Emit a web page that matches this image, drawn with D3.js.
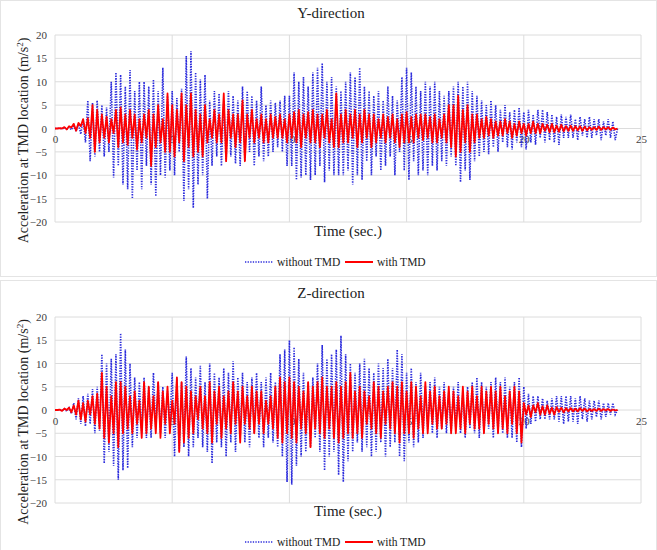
<!DOCTYPE html>
<html><head><meta charset="utf-8">
<script src="https://cdn.jsdelivr.net/npm/d3@7"></script>
<style>body{margin:0;background:#fff}svg{display:block}</style>
</head><body><div id="chart"></div>
<script>
// ---- data (one sample every 0.1 s, 0 .. 24 s) ----
const timeStep = 0.1;
const xTicks = [0, 5, 10, 15, 20, 25];
const yTicks = [-20, -15, -10, -5, 0, 5, 10, 15, 20];
const seriesNames = ["without TMD", "with TMD"];
const chartTitles = ["Y-direction", "Z-direction"];

const yWithout = [
 0,0,0.1,-0.1,0.2,-0.2,0.3,-0.3,0.5,-0.6,
 1.0,-1.2,2.0,-3,6,-7,5.5,-6,6,-5,
 5,-6,4.5,-5,10,-10.5,12,-8,11.5,-12,
 9,-13,12.5,-15,8,-9,10,-13,10,-8,
 9,-12,10.5,-14.5,8,-10,13,-10.5,7,-9,
 8,-10,6.5,-5,8.5,-15.5,15.5,-13,16.5,-17,
 12,-12,10.5,-10,11.5,-15,6,-8,8,-6,
 7.5,-8,6,-7,8,-6,7,-7.5,6,-8,
 9,-7,8,-5,7,-8,6,-6,9,-7,
 5,-6,6,-5,5.5,-4,6,-5,7,-8,
 7,-8,12,-11,10,-10.5,11,-10,9,-11,
 12,-10,13,-8,14,-11.5,10,-9,11,-10,
 9,-10,8,-10,10,-9,12,-12,11,-10,
 13,-11,9,-7,8,-10,7,-6,8,-9,
 6,-8,9,-6,7,-10,6,-5,11,-9,
 13,-11,12,-7,9,-10,8,-9,10,-10,
 9,-8,10,-9,8,-7,7,-8,8,-6,
 9,-8,10,-11.5,9,-9,10,-11,8,-7,
 7,-6,6,-5,5,-5.5,6,-4,5,-5,
 4,-3,5,-4,3.5,-4.5,4,-3,4.5,-4,
 3.5,-4.5,4,-3,3,-3.5,4,-2,4,-3,
 3.5,-2.5,3,-3,2.5,-3.5,3,-2,2.5,-2,
 3,-2,2,-2.5,2.5,-1.5,2,-2,2.5,-2,
 2,-1.5,2,-2.5,1.5,-1.5,2,-2,1.5,-2.5,
 0];

const yWith = [
 0,0,0.1,0,0.3,-0.2,0.5,0.2,1.0,-0.5,
 1.2,0.5,2,-1,2.2,-2,5,-5,4,-3,
 3,-2,2.5,-3,2,-1,4,-4,4.5,-3,
 3,-3.5,4,-2,3,-4.5,2,-3,3,-2,
 4,-8,3,-4,5,-3,2,-5,7.5,-5,
 5,-6,4,-3,7.5,-7,5,-4,7.5,-6,
 4,-5,3,-6,5,-3,2,-2,4,-3,
 3,-3,7.5,-7,4,-2,3,-4,3,-3,
 6,-7,3,-2,4,-3,2,-2,3,-3,
 2,-3,3,-2,2.5,-2,3,-2,2,-3,
 3,-2,3.5,-3,4,-4,3,-2,3.5,-3,
 4,-3,3,-4,3,-2,4,-3,2,-4,
 7.5,-4,3,-3,4,-3,3,-2,4,-4,
 3,-3,4,-2,3,-4,3,-3,2,-2,
 3,-3,2.5,-2,3,-3,2,-4,3,-3,
 3.5,-3,2.5,-3,3,-2,3,-2.5,3,-2,
 2.5,-3,3,-3,2,-2,3,-3,5,-4,
 5,-6,7,-5,4,-3,5,-5,3,-3,
 3,-2,2,-2,2.5,-1.5,2,-2,1.5,-1.5,
 1.5,-1.5,2,-1,1.5,-2,1,-1.5,1.5,-1,
 1,-1.5,1,-1,1.5,-1,1,-1,1,-0.5,
 0.8,-0.8,1,-0.8,0.6,-0.7,0.8,-0.6,0.5,-0.5,
 0.6,-0.5,0.5,-0.4,0.5,-0.5,0.4,-0.4,0.3,-0.3,
 0.3,-0.3,0.4,-0.3,0.3,-0.2,0.3,-0.3,0.2,-0.2,
 0];

const zWithout = [
 0,0,0.1,-0.2,0.3,-0.3,0.5,-0.8,1.5,-2,
 2.5,-3,3,-3.5,3.5,-3,4.5,-5,5,-4.5,
 12,-11.5,10,-9,11,-12,12,-15,16.5,-13,
 13,-12.5,10,-8,7,-6,6,-5,7,-6,
 5,-6,8,-4,6,-5,5,-6,4,-3,
 8,-10,7,-9,6,-8,11.5,-10,9,-8,
 7,-6,9.5,-8,6,-9,10,-11.5,8,-7,
 7,-8,9,-10,8,-7,10.5,-9,7,-6,
 8,-7,6,-8,7,-5,8,-6,6,-8,
 7,-6,8,-7,6,-8,12,-10,13,-15.5,
 15,-16,13.5,-12,11,-10,8,-9,6,-8,
 7,-6,10,-9,14,-13,11,-10,12,-9,
 13,-14,16,-15.5,12,-11,10,-9,8,-7,
 10,-9,11,-8,9,-10,8,-9,10,-7,
 9,-10,11,-8,9,-7,13,-10,12,-11,
 8,-7,9,-8,6,-7,8,-6,5,-4,
 6,-5,7,-6,5,-4,6,-5,4,-5,
 5,-4,6,-5,4,-6,5,-4,6,-5,
 7,-6,6,-5,5,-4,6,-6,7,-5,
 6,-5,7,-6,5,-6,6,-7,7,-8,
 5,-4,3.5,-3,3,-2.5,3,-2,2.5,-2,
 2,-2,2.5,-2,3,-2.5,3,-3,3,-2.5,
 3,-2.5,2.5,-3,3,-2,2.5,-2.5,2,-2,
 2,-1.5,2,-2,1.5,-1.5,1.5,-1,1.5,-1,
 0];

const zWith = [
 0,0,0.1,-0.2,0.3,0,0.5,-0.5,1.0,-1,
 2,-2,1.5,-2.5,2,-1,3,-3,3.5,-4,
 8,-6,5,-7,3,-5,6,-8,6,-5,
 5,-4,3,-5,4,-3,2,-6,6,-5,
 5,-4,3,-5,6,-6,4,-3,5,-5,
 2,-3,7,-9,6,-7,5,-6,4,-5,
 3,-2,5,-4,3,-5,6,-7,4,-3,
 5,-6,3,-4,4,-5,6,-3,4,-7,
 5,-3,3,-4,5,-5,4,-3,4,-5,
 2,-3,3,-4,5,-6,7,-7,6,-5,
 7,-6,6,-7,5,-4,4,-5,6,-8,
 5,-4,6,-5,7,-6,5,-4,5,-6,
 6,-7,5,-6,6,-5,8,-6,4,-5,
 5,-6,4,-3,3,-4,6,-5,5,-6,
 4,-3,5,-4,6,-5,5,-7,6,-5,
 4,-5,6,-6,5,-4,3,-5,6,-5,
 4,-3,5,-4,3,-4,4,-3,5,-5,
 4,-5,3,-4,5,-5,4,-3,5,-4,
 3,-4,5,-5,4,-3,5,-4,4,-5,
 5,-4,3,-5,4,-3,5,-5,4,-7,
 1.5,-1,1,-1.5,1,-0.5,1.5,-1,0.8,-1,
 1,-0.8,0.5,-1,0.6,-0.4,0.5,-0.5,0.4,-0.3,
 0.4,-0.3,0.3,-0.3,0.4,-0.2,0.3,-0.3,0.2,-0.2,
 0.2,-0.2,0.3,-0.2,0.2,-0.1,0.2,-0.2,0.1,-0.1,
 0];

// ---- drawing ----
const W = 657, H = 550;
const FONT = "'Liberation Serif', 'Times New Roman', Times, serif";
const svg = d3.select("#chart").append("svg").attr("width", W).attr("height", H)
  .attr("font-family", FONT);

const panels = [
  {title: chartTitles[0], without: yWithout, withT: yWith, top: 0,   plotTop: 35,  plotBot: 222},
  {title: chartTitles[1], without: zWithout, withT: zWith, top: 280, plotTop: 317, plotBot: 503}
];

const blue = "#2b2bdc", red = "#ff0000";

panels.forEach(p => {
  const g = svg.append("g");
  g.append("rect").attr("x", 0.5).attr("y", p.top + 0.5).attr("width", W - 1).attr("height", 276)
    .attr("fill", "#fff").attr("stroke", "#e4e4e4");

  const x = d3.scaleLinear().domain([0, 25]).range([55, 641]);
  const y = d3.scaleLinear().domain([-20, 20]).range([p.plotBot, p.plotTop]);

  // gridlines
  g.append("g").selectAll("line").data(yTicks).join("line")
    .attr("x1", x(0)).attr("x2", x(25)).attr("y1", d => y(d)).attr("y2", d => y(d))
    .attr("stroke", "#dcdcdc").attr("stroke-width", 1);
  g.append("g").selectAll("line").data(xTicks).join("line")
    .attr("y1", y(20)).attr("y2", y(-20)).attr("x1", d => x(d)).attr("x2", d => x(d))
    .attr("stroke", "#dcdcdc").attr("stroke-width", 1);

  // y axis labels
  const ya = d3.axisLeft(y).tickValues(yTicks).tickSize(0).tickPadding(8);
  const yg = g.append("g").attr("transform", `translate(${x(0)},0)`).call(ya);
  yg.attr("font-family", FONT).attr("font-size", 11);
  yg.select(".domain").remove();
  yg.selectAll("text").style("font-family", FONT).attr("fill", "#404040");

  // x axis labels on zero line
  const xa = d3.axisBottom(x).tickValues(xTicks).tickSize(0).tickPadding(7).tickFormat(d3.format("d"));
  const xg = g.append("g").attr("transform", `translate(0,${y(0)})`).call(xa);
  xg.attr("font-family", FONT).attr("font-size", 11);
  xg.select(".domain").remove();
  xg.selectAll("text").style("font-family", FONT).attr("fill", "#404040");

  const line = d3.line().x((d, i) => x(i * timeStep)).y(d => y(d));

  g.append("path").datum(p.without).attr("d", line).attr("fill", "none")
    .attr("stroke", blue).attr("stroke-width", 1.6).attr("stroke-dasharray", "1.3,1.3");
  g.append("path").datum(p.withT).attr("d", line).attr("fill", "none")
    .attr("stroke", red).attr("stroke-width", 1.8).attr("stroke-linejoin", "round");

  // title
  g.append("text").attr("x", 331).attr("y", p.top + 18).attr("text-anchor", "middle")
    .style("font-family", FONT).attr("font-size", 15).attr("fill", "#222").text(p.title);

  // x title
  g.append("text").attr("x", 348).attr("y", p.top + 236).attr("text-anchor", "middle")
    .style("font-family", FONT).attr("font-size", 15).attr("fill", "#222").text("Time (sec.)");

  // y title
  const yt = g.append("text").attr("transform", `translate(28,${(p.plotTop + p.plotBot) / 2 + 12}) rotate(-90)`)
    .attr("text-anchor", "middle").style("font-family", FONT).attr("font-size", 14).attr("fill", "#222");
  yt.append("tspan").text("Acceleration at TMD location (m/s");
  yt.append("tspan").attr("font-size", 9).attr("dy", -5).text("2");
  yt.append("tspan").attr("dy", 5).text(")");

  // legend
  const ly = p.top + 262;
  g.append("line").attr("x1", 245).attr("x2", 273).attr("y1", ly).attr("y2", ly)
    .attr("stroke", blue).attr("stroke-width", 1.6).attr("stroke-dasharray", "1.3,1.3");
  g.append("text").attr("x", 277).attr("y", ly + 4).style("font-family", FONT).attr("font-size", 11.5).attr("fill", "#222").text(seriesNames[0]);
  g.append("line").attr("x1", 345).attr("x2", 373).attr("y1", ly).attr("y2", ly)
    .attr("stroke", red).attr("stroke-width", 2);
  g.append("text").attr("x", 377).attr("y", ly + 4).style("font-family", FONT).attr("font-size", 11.5).attr("fill", "#222").text(seriesNames[1]);
});
</script></body></html>
